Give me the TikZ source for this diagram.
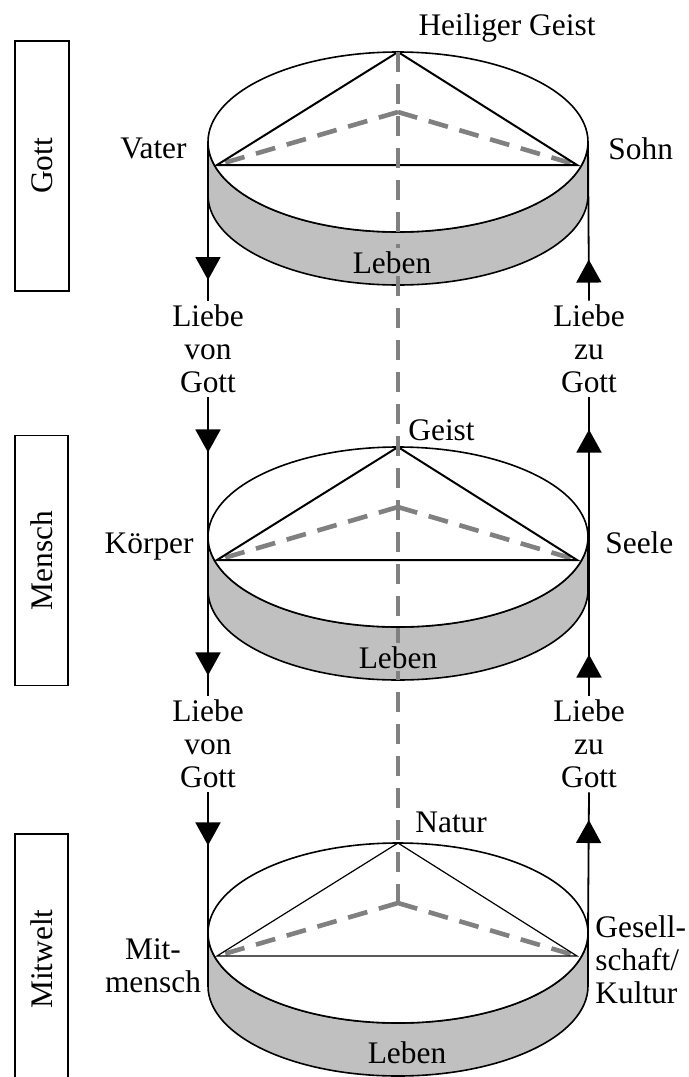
\documentclass[tikz,border=0pt]{standalone}
\usepackage{fontspec}
\setmainfont{Liberation Serif}
\usetikzlibrary{calc,arrows.meta,decorations.markings}
\definecolor{sidegray}{HTML}{C0C0C0}
\definecolor{dashgray}{HTML}{808080}

\begin{document}
\begin{tikzpicture}[x=0.5pt,y=-0.5pt,inner sep=2pt,
		font=\fontsize{15.7}{16.5}\selectfont,
		diskside/.style={draw=black,line width=0.8pt,fill=sidegray},
		disktop/.style={draw=black,line width=0.8pt,fill=white},
		axis/.style={dashgray,line width=2.3pt,dash pattern=on 10pt off 6pt},
		trianglepen/.style={black,line width=1pt},
		lifelabel/.style={fill=sidegray,inner sep=1.5pt,anchor=base},
		lovelabel/.style={align=center},
		loveline/.style={black,line width=0.9pt},
		levelbox/.style={draw,line width=0.8pt,rotate=90,minimum width=125pt,minimum height=26.75pt,inner sep=0pt},
		lovetip/.style={postaction={decorate,decoration={markings,mark=at position #1 with {\arrow{Triangle[width=12.5pt,length=11.5pt]}}}}}]
	\useasboundingbox (0,0) rectangle (689,1077);
	
	\coordinate (D1) at (398,142);
	\coordinate (D2) at (398,537);
	\coordinate (D3) at (398,933);
	
	% Gott
	\draw[diskside] ($(D1)+(-190,0)$) -- ++(0,53) arc[start angle=180,end angle=0,x radius=190,y radius=90] -- ++(0,-53) arc[start angle=0,end angle=180,x radius=190,y radius=90] -- cycle;
	\draw[disktop] (D1) ellipse[x radius=190,y radius=90];
	\coordinate (V1) at ($(D1)+(-181,23)$);
	\coordinate (S1) at ($(D1)+(179,23)$);
	\coordinate (H1) at ($(D1)+(0,-90)$);
	\coordinate (M1) at ($(D1)+(0,-30)$);
	\coordinate (L1) at ($(D1)+(-190,0)$);
	\coordinate (R1) at ($(D1)+(190,0)$);
	\draw[axis] (M1) -- (V1) (M1) -- (S1);
	\draw[trianglepen] (V1) -- (H1) -- (S1) -- cycle;
	
	% Mensch
	\draw[diskside] ($(D2)+(-190,0)$) -- ++(0,53) arc[start angle=180,end angle=0,x radius=190,y radius=90] -- ++(0,-53) arc[start angle=0,end angle=180,x radius=190,y radius=90] -- cycle;
	\draw[disktop] (D2) ellipse[x radius=190,y radius=90];
	\coordinate (V2) at ($(D2)+(-181,23)$);
	\coordinate (S2) at ($(D2)+(179,23)$);
	\coordinate (H2) at ($(D2)+(0,-90)$);
	\coordinate (M2) at ($(D2)+(0,-30)$);
	\draw[axis] (M2) -- (V2) (M2) -- (S2);
	\draw[trianglepen] (V2) -- (H2) -- (S2) -- cycle;
	
	% Mitwelt
	\draw[diskside] ($(D3)+(-190,0)$) -- ++(0,53) arc[start angle=180,end angle=0,x radius=190,y radius=90] -- ++(0,-53) arc[start angle=0,end angle=180,x radius=190,y radius=90] -- cycle;
	\draw[disktop] (D3) ellipse[x radius=190,y radius=90];
	\coordinate (V3) at ($(D3)+(-181,23)$);
	\coordinate (S3) at ($(D3)+(179,23)$);
	\coordinate (H3) at ($(D3)+(0,-90)$);
	\coordinate (M3) at ($(D3)+(0,-30)$);
	\coordinate (L3) at ($(D3)+(-190,0)$);
	\coordinate (R3) at ($(D3)+(190,0)$);
	\draw[axis] (M3) -- (V3) (M3) -- (S3);
	\draw[trianglepen,line width=0.6pt] (V3) -- (H3) -- (S3) -- cycle;
	
	\draw[axis] (H1) -- (M3);
	
	% labels
	\node[anchor=base] (hg) at (507,35) {Heiliger Geist};
	\node[anchor=base east] (vater) at (191,158) {Vater};
	\node[anchor=base west] (sohn) at (604,159) {Sohn};
	\node[lifelabel] (leben1) at (392,273) {Leben};
	\node[anchor=base west] (geist) at (404,440) {Geist};
	\node[anchor=base east] (koerper) at (198,553) {Körper};
	\node[anchor=base west] (seele) at (601,553) {Seele};
	\node[lifelabel] (leben2) at (398,668) {Leben};
	\node[anchor=base west] (natur) at (411,832) {Natur};
	\node[align=center] (mitmensch) at (153,966) {Mit-\\mensch};
	\node[align=left,anchor=west] (gesell) at (591,960) {Gesell-\\schaft/\\Kultur};
	\node[lifelabel] (leben3) at (407,1063) {Leben};
	
	\node[lovelabel] (vonA) at (208,349) {Liebe\\von\\Gott};
	\node[lovelabel] (zuA) at (589,349) {Liebe\\zu\\Gott};
	\node[lovelabel] (vonB) at (208,744) {Liebe\\von\\Gott};
	\node[lovelabel] (zuB) at (589,744) {Liebe\\zu\\Gott};
	
	\node[levelbox] (gott) at (42,166) {Gott};
	\node[levelbox] (mensch) at (41.5,560.5) {Mensch};
	\node[levelbox] (mitwelt) at (41.5,959) {Mitwelt};
	
	% Liebe
	\draw[loveline,lovetip=69pt] (L1) -- (vonA.north);
	\draw[loveline,lovetip=20.5pt] (zuA.north) -- (R1);
	\draw[loveline,lovetip=27.5pt,lovetip=139pt] (vonA.south) -- (vonB.north);
	\draw[loveline,lovetip=20.5pt,lovetip=133pt] (zuB.north) -- (zuA.south);
	\draw[loveline,lovetip=26.5pt] (vonB.south) -- (L3);
	\draw[loveline,lovetip=56.5pt] (R3) -- (zuB.south);
\end{tikzpicture}
\end{document}
